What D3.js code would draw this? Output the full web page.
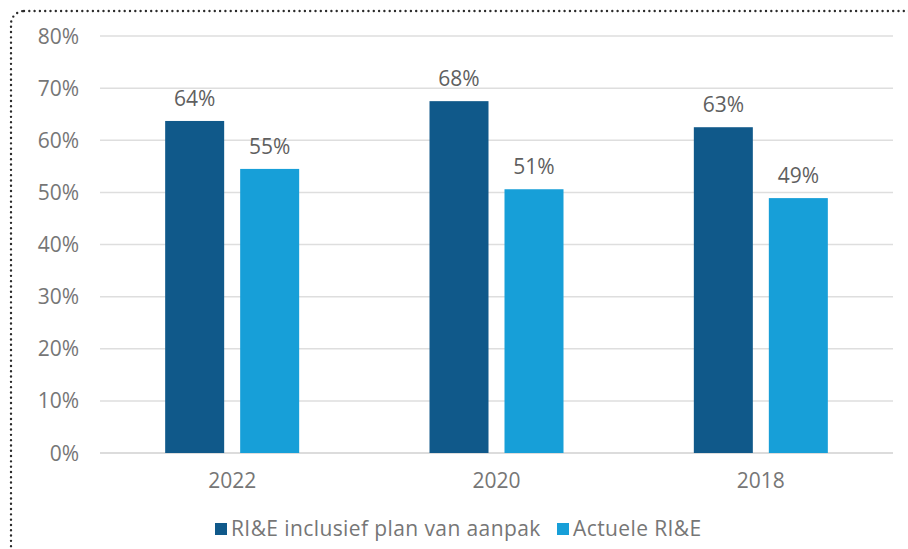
<!DOCTYPE html>
<html>
<head>
<meta charset="utf-8">
<script src="https://cdn.jsdelivr.net/npm/d3@7"></script>
<style>
  body { margin: 0; background: #fff; }
  text { font-family: "Open Sans", "Noto Sans", sans-serif; }
</style>
</head>
<body>
<div id="chart"></div>
<script>
var years = ["2022", "2020", "2018"];
var seriesNames = ["RI&E inclusief plan van aanpak", "Actuele RI&E"];
var planValues = [63.7, 67.5, 62.5];
var actueelValues = [54.5, 50.6, 48.9];
var tickValues = [0, 10, 20, 30, 40, 50, 60, 70, 80];
var colors = ["#10598a", "#179fd8"];

var width = 908, height = 549;
var margin = {top: 36, right: 15, bottom: 96, left: 100};

var svg = d3.select("#chart")
    .append("svg")
        .attr("width", width)
        .attr("height", height);

// dotted frame, only top and left show
svg.append("rect")
    .attr("x", 11)
    .attr("y", 11)
    .attr("width", 1200)
    .attr("height", 1200)
    .attr("rx", 13)
    .attr("fill", "none")
    .attr("stroke", "#2b2b2b")
    .attr("stroke-width", 2.4)
    .attr("stroke-linecap", "round")
    .attr("stroke-dasharray", "0,5.3");

var x = d3.scaleBand()
    .domain(years)
    .range([margin.left, width - margin.right]);

var y = d3.scaleLinear()
    .domain([0, 80])
    .range([height - margin.bottom, margin.top]);

// gridlines
svg.append("g")
    .selectAll("line")
    .data(tickValues)
    .enter()
    .append("line")
        .attr("x1", margin.left)
        .attr("x2", width - margin.right)
        .attr("y1", d => y(d))
        .attr("y2", d => y(d))
        .attr("stroke", d => d === 0 ? "#d0d0d0" : "#dedede")
        .attr("stroke-width", 1.5);

// y tick labels
svg.append("g")
    .selectAll("text")
    .data(tickValues)
    .enter()
    .append("text")
        .text(d => d + "%")
        .attr("x", 79)
        .attr("y", d => y(d) + 7.5)
        .attr("text-anchor", "end")
        .attr("fill", "#767676")
        .style("font-size", "21px");

// bars
var barW = 59, gap = 16;
var rows = years.map((yr, i) => ({year: yr, vals: [planValues[i], actueelValues[i]]}));

var groups = svg.append("g")
    .selectAll("g")
    .data(rows)
    .enter()
    .append("g")
        .attr("transform", d => "translate(" + (x(d.year) + x.bandwidth() / 2) + ",0)");

groups.selectAll("rect")
    .data(d => d.vals)
    .enter()
    .append("rect")
        .attr("x", (d, i) => i === 0 ? -gap / 2 - barW : gap / 2)
        .attr("y", d => y(d))
        .attr("width", barW)
        .attr("height", d => y(0) - y(d))
        .attr("fill", (d, i) => colors[i]);

groups.selectAll("text")
    .data(d => d.vals)
    .enter()
    .append("text")
        .text(d => Math.round(d) + "%")
        .attr("x", (d, i) => i === 0 ? -gap / 2 - barW / 2 : gap / 2 + barW / 2)
        .attr("y", d => y(d) - 15)
        .attr("text-anchor", "middle")
        .attr("fill", "#5f5f5f")
        .style("font-size", "21px");

// x labels
svg.append("g")
    .selectAll("text")
    .data(years)
    .enter()
    .append("text")
        .text(d => d)
        .attr("x", d => x(d) + x.bandwidth() / 2)
        .attr("y", 488)
        .attr("text-anchor", "middle")
        .attr("fill", "#767676")
        .style("font-size", "21px");

// legend
var legendX = [215, 557];
var legend = svg.append("g")
    .selectAll("g")
    .data(seriesNames)
    .enter()
    .append("g")
        .attr("transform", (d, i) => "translate(" + legendX[i] + ",523)");

legend.append("rect")
    .attr("width", 12)
    .attr("height", 12)
    .attr("fill", (d, i) => colors[i]);

legend.append("text")
    .text(d => d)
    .attr("x", 16)
    .attr("y", 13)
    .attr("fill", "#767676")
    .style("font-size", "21px")
    .style("letter-spacing", "0.4px");
</script>
</body>
</html>
